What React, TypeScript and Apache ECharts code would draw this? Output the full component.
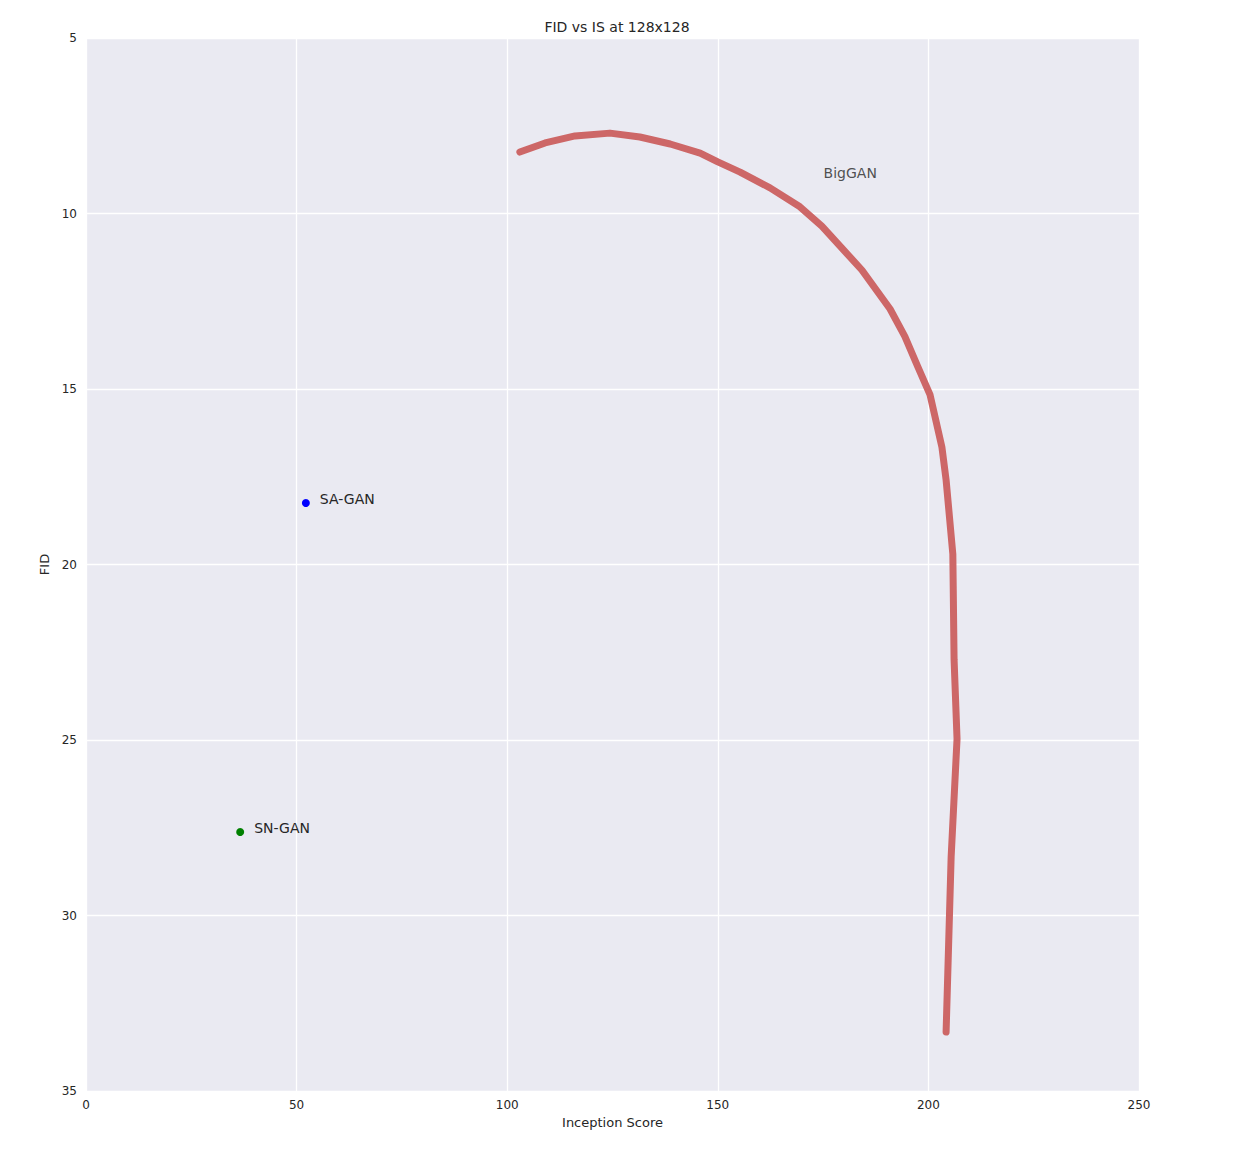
import React, { useEffect, useRef } from "react";
import * as echarts from "echarts";

const bigganIS = [103.0, 109.0, 116.1, 124.4, 131.5, 138.7, 145.8, 150.0, 155.3, 162.4, 169.5, 174.7, 184.2, 190.9, 194.4, 197.5, 200.4, 203.2, 204.2, 205.8, 206.1, 206.8, 205.4, 204.2];
const bigganFID = [8.25, 7.99, 7.79, 7.71, 7.82, 8.02, 8.28, 8.53, 8.82, 9.27, 9.81, 10.36, 11.61, 12.72, 13.5, 14.37, 15.17, 16.65, 17.59, 19.7, 22.72, 24.97, 28.33, 33.32];
const saganPoint = [52.2, 18.25];
const snganPoint = [36.6, 27.62];
const bigganLabelPos = [175, 8.85];
const xTicks = [0, 50, 100, 150, 200, 250];
const yTicks = [5, 10, 15, 20, 25, 30, 35];

const FONT = "DejaVu Sans";

export default function App() {
  const ref = useRef<HTMLDivElement>(null);
  useEffect(() => {
    if (!ref.current) return;
    const chart = echarts.init(ref.current, undefined, { renderer: "svg" });
    const labelStyle = {
      show: true,
      fontFamily: FONT,
      fontSize: 14,
      color: "#262626",
    };
    chart.setOption({
      animation: false,
      backgroundColor: "#ffffff",
      title: {
        text: "FID vs IS at 128x128",
        left: 612,
        top: 15,
        textAlign: "center",
        textStyle: { fontFamily: FONT, fontSize: 14, fontWeight: "normal", color: "#262626" },
      },
      grid: {
        left: 86,
        top: 38,
        width: 1053,
        height: 1053,
        show: true,
        backgroundColor: "#EAEAF2",
        borderWidth: 0,
      },
      xAxis: {
        type: "value",
        min: xTicks[0],
        max: xTicks[xTicks.length - 1],
        interval: 50,
        name: "Inception Score",
        nameLocation: "middle",
        nameGap: 24,
        nameTextStyle: { fontFamily: FONT, fontSize: 13, color: "#262626" },
        axisLine: { show: false },
        axisTick: { show: false },
        axisLabel: { fontFamily: FONT, fontSize: 12, color: "#262626", margin: 8 },
        splitLine: { show: true, lineStyle: { color: "#ffffff", width: 1.3 } },
      },
      yAxis: {
        type: "value",
        inverse: true,
        min: yTicks[0],
        max: yTicks[yTicks.length - 1],
        interval: 5,
        name: "FID",
        nameLocation: "middle",
        nameGap: 28,
        nameRotate: 90,
        nameTextStyle: { fontFamily: FONT, fontSize: 13, color: "#262626" },
        axisLine: { show: false },
        axisTick: { show: false },
        axisLabel: { fontFamily: FONT, fontSize: 12, color: "#262626", margin: 9 },
        splitLine: { show: true, lineStyle: { color: "#ffffff", width: 1.3 } },
      },
      series: [
        {
          type: "line",
          name: "BigGAN",
          data: bigganIS.map((x, i) => [x, bigganFID[i]]),
          showSymbol: false,
          symbol: "none",
          smooth: false,
          lineStyle: { color: "#CD6767", width: 7, cap: "round", join: "round" },
          z: 3,
        },
        {
          type: "scatter",
          name: "SA-GAN",
          data: [saganPoint],
          symbolSize: 8,
          itemStyle: { color: "#0000ff", opacity: 1 },
          label: { ...labelStyle, position: "right", distance: 10, offset: [0, -4], formatter: "SA-GAN" },
        },
        {
          type: "scatter",
          name: "SN-GAN",
          data: [snganPoint],
          symbolSize: 8,
          itemStyle: { color: "#008000", opacity: 1 },
          label: { ...labelStyle, position: "right", distance: 10, offset: [0, -4], formatter: "SN-GAN" },
        },
        {
          type: "scatter",
          name: "BigGAN label",
          data: [bigganLabelPos],
          symbolSize: 1,
          itemStyle: { color: "rgba(0,0,0,0)" },
          label: { ...labelStyle, position: "right", distance: 0, formatter: "BigGAN" },
        },
      ],
    });
    return () => chart.dispose();
  }, []);
  return (
    <div
      ref={ref}
      style={{ position: "fixed", left: 0, top: 0, width: 1254, height: 1156 }}
    />
  );
}
